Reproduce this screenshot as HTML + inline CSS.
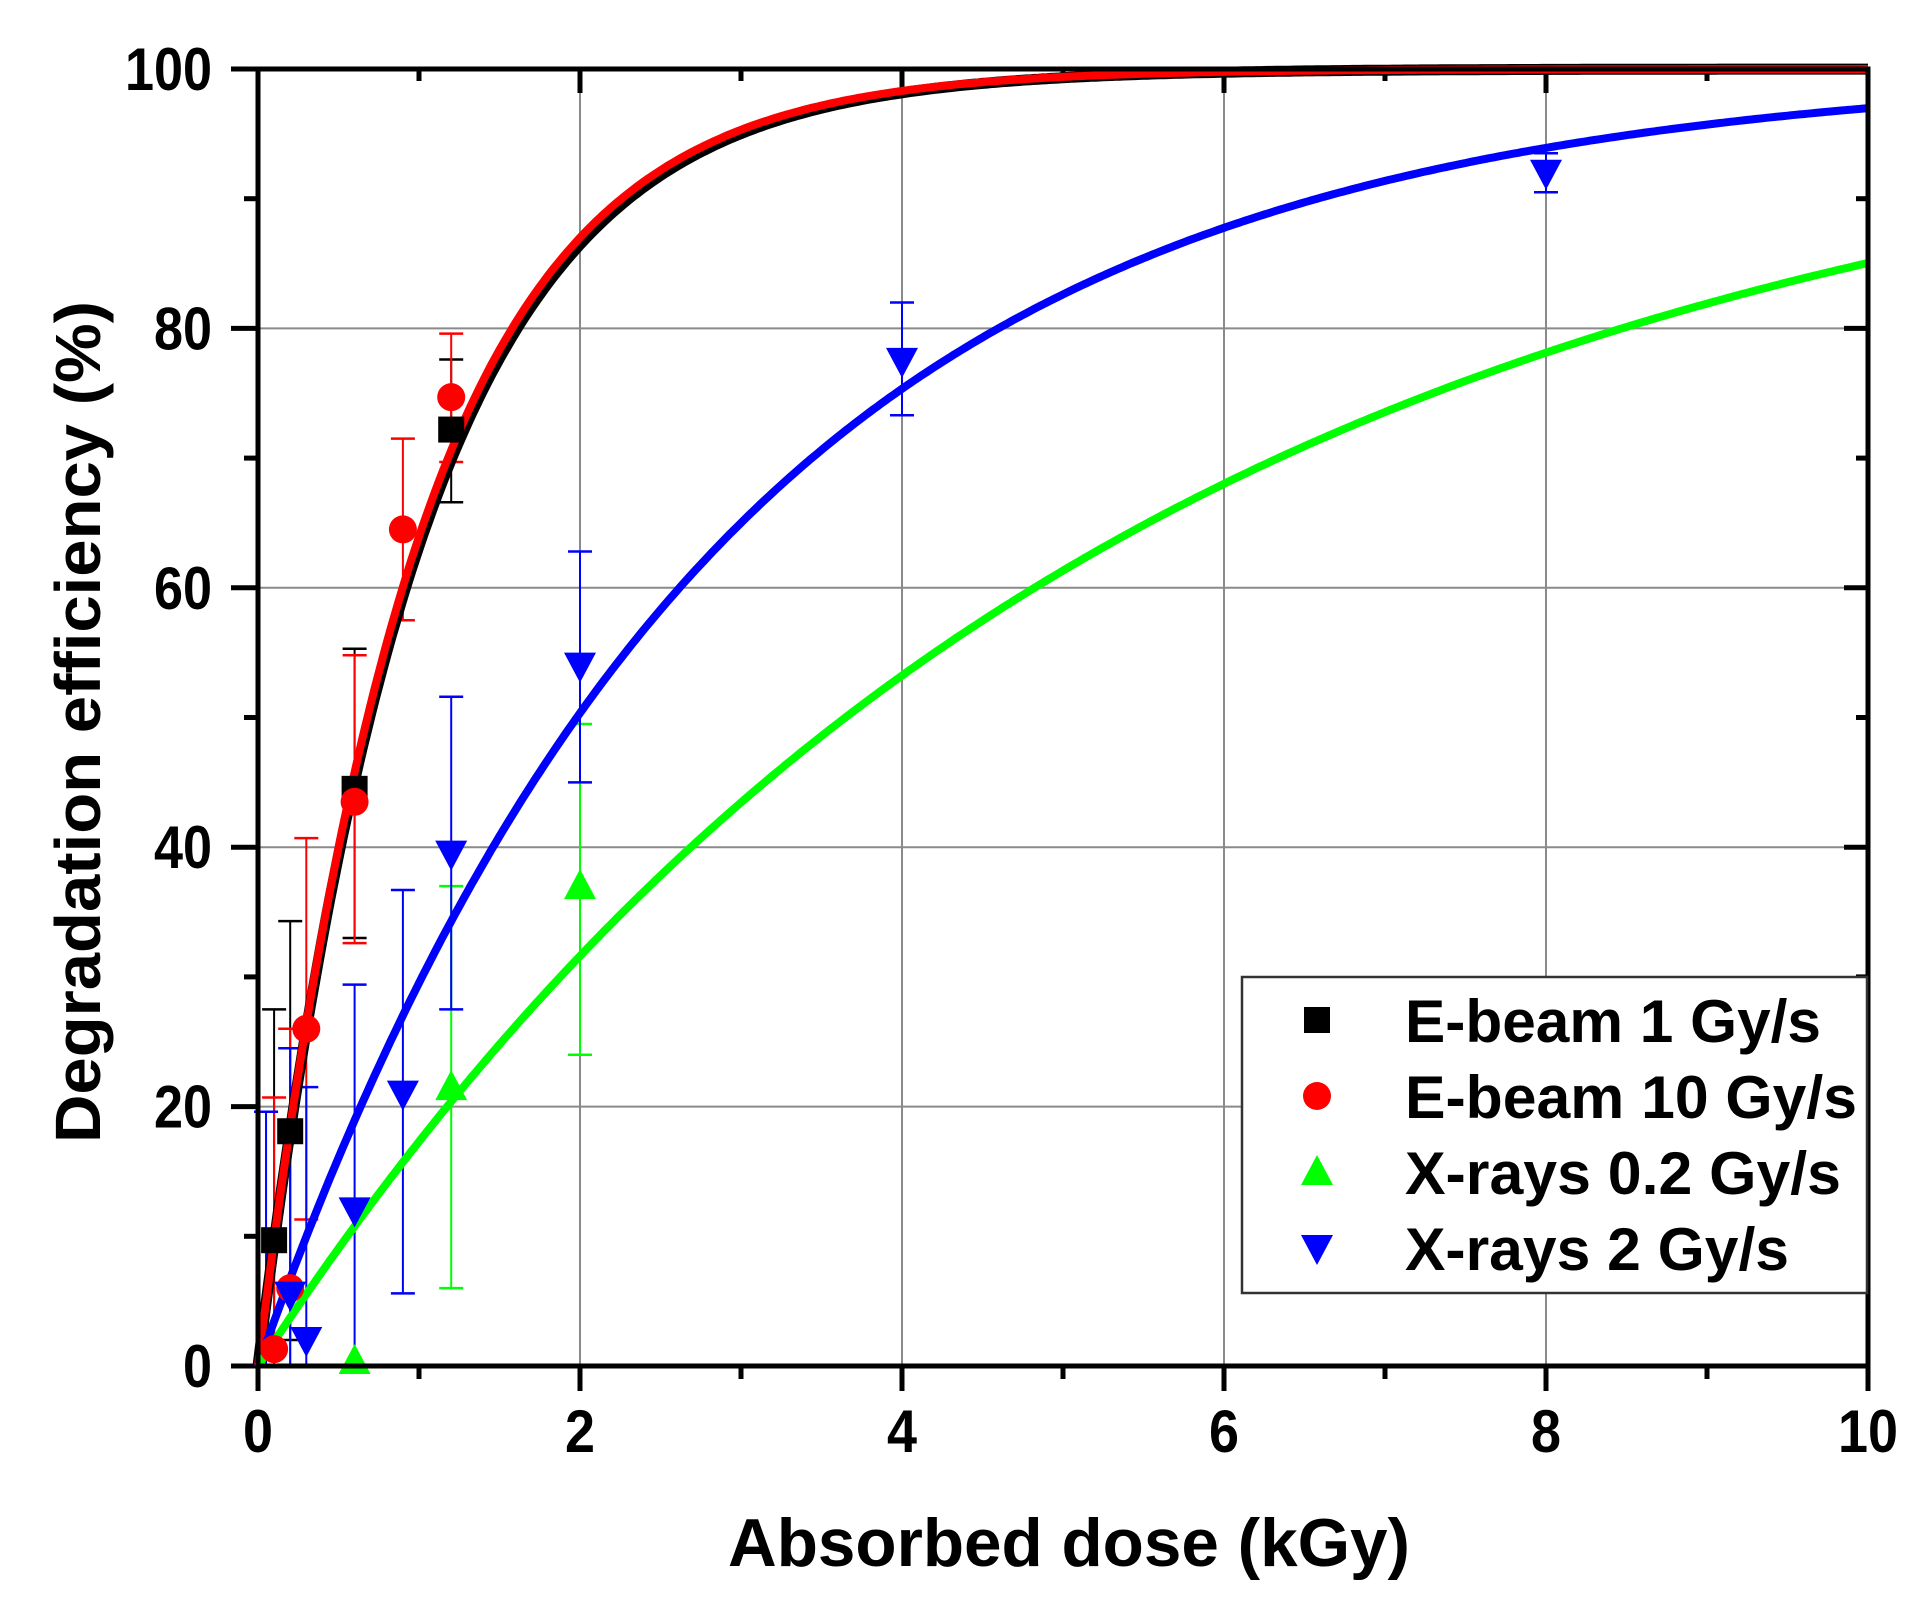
<!DOCTYPE html>
<html><head><meta charset="utf-8"><style>
html,body{margin:0;padding:0;background:#fff;}
svg{display:block;}
text{font-family:"Liberation Sans",Arial,sans-serif;font-weight:bold;fill:#000;}
</style></head><body>
<svg id="s" width="1917" height="1608" viewBox="0 0 1917 1608" xmlns="http://www.w3.org/2000/svg">
<text x="78" y="722" transform="rotate(-90 78 722)" text-anchor="middle" font-size="64" textLength="842" lengthAdjust="spacingAndGlyphs" dominant-baseline="central">Degradation efficiency (%)</text>
<text x="1069" y="1566" text-anchor="middle" font-size="68" textLength="682" lengthAdjust="spacingAndGlyphs">Absorbed dose (kGy)</text>
</svg>
<script>
var s=document.getElementById('s'),NS='http://www.w3.org/2000/svg';
var X0=258,X1=1868,Y0=1366,Y1=69;
function X(v){return X0+v*(X1-X0)/10;}function Y(v){return Y0-v*(Y0-Y1)/100;}
function el(t,a,txt){var e=document.createElementNS(NS,t);for(var k in a)e.setAttribute(k,a[k]);if(txt!=null)e.textContent=txt;s.appendChild(e);return e;}
for(var i=2;i<10;i+=2)el('line',{x1:X(i),x2:X(i),y1:Y0,y2:Y1,stroke:'#8a8a8a','stroke-width':2});
for(var j=20;j<100;j+=20)el('line',{x1:X0,x2:X1,y1:Y(j),y2:Y(j),stroke:'#8a8a8a','stroke-width':2});
for(var i=0;i<=10;i++){var M=i%2==0;
 el('line',{x1:X(i),x2:X(i),y1:Y0,y2:Y0+(M?25:13),stroke:'#000','stroke-width':5});
 el('line',{x1:X(i),x2:X(i),y1:Y1,y2:Y1+(M?24:12),stroke:'#000','stroke-width':5});
 if(M){var t=String(i);el('text',{x:X(i),y:1452,'text-anchor':'middle','font-size':60,textLength:t.length*30,lengthAdjust:'spacingAndGlyphs'},t);}}
for(var j=0;j<=100;j+=10){var M=j%20==0;
 el('line',{x1:X0,x2:X0-(M?27:14),y1:Y(j),y2:Y(j),stroke:'#000','stroke-width':5});
 el('line',{x1:X1,x2:X1-(M?24:12),y1:Y(j),y2:Y(j),stroke:'#000','stroke-width':5});
 if(M){var t=String(j);el('text',{x:212,y:Y(j)+21,'text-anchor':'end','font-size':60,textLength:t.length*29,lengthAdjust:'spacingAndGlyphs'},t);}}
function eb(x,hi,lo,c){el('line',{x1:X(x),x2:X(x),y1:Y(hi),y2:Y(lo),stroke:c,'stroke-width':2});
 [hi,lo].forEach(function(v){if(v>0.5)el('line',{x1:X(x)-12,x2:X(x)+12,y1:Y(v),y2:Y(v),stroke:c,'stroke-width':2.5});});}
var blk=[[0.1,9.7,27.5,0],[0.2,18.1,34.3,2],[0.6,44.5,55.3,33],[1.2,72.2,77.6,66.6]];
var red=[[0.1,1.3,20.7,0],[0.2,6,26,0],[0.3,26,40.7,11.3],[0.6,43.5,54.8,32.6],[0.9,64.5,71.5,57.5],[1.2,74.7,79.6,69.7]];
var grn=[[0.6,0,0,0],[1.2,21.5,37,6],[2,37,49.5,24]];
var blu=[[0.05,10,19.6,0],[0.2,5.5,24.5,0],[0.3,2,21.5,0],[0.6,12,29.4,0],[0.9,21,36.7,5.6],[1.2,39.5,51.6,27.5],[2,54,62.8,45],[4,77.5,82,73.3],[8,92,93.5,90.5]];
blk.forEach(function(d){eb(d[0],d[2],d[3],'#000');});
red.forEach(function(d){eb(d[0],d[2],d[3],'#f00');});
grn.forEach(function(d){eb(d[0],d[2],d[3],'#0f0');});
blu.forEach(function(d){eb(d[0],d[2],d[3],'#00f');});
function curve(k,c,w){var p='';for(var i=0;i<=400;i++){var x=i*10/400;p+=(i?'L':'M')+X(x).toFixed(1)+' '+Y(100*(1-Math.exp(-k*x))).toFixed(1);}
 el('path',{d:p,fill:'none',stroke:c,'stroke-width':w,'stroke-linejoin':'round'});}
curve(1.0,'#000',11);curve(1.02,'#f00',8);curve(0.35,'#00f',8);curve(0.19,'#0f0',8);
function sq(x,y){el('rect',{x:x-13,y:y-13,width:26,height:26,fill:'#000'});}
function ci(x,y){el('circle',{cx:x,cy:y,r:14,fill:'#f00'});}
function tu(x,y){el('polygon',{points:(x-16)+','+(y+13)+' '+(x+16)+','+(y+13)+' '+x+','+(y-17),fill:'#0f0'});}
function td(x,y){el('polygon',{points:(x-16)+','+(y-13)+' '+(x+16)+','+(y-13)+' '+x+','+(y+17),fill:'#00f'});}
blk.forEach(function(d){sq(X(d[0]),Y(d[1]));});
red.forEach(function(d){ci(X(d[0]),Y(d[1]));});
grn.forEach(function(d){if(d[1]>0)tu(X(d[0]),Y(d[1]));else tu(X(d[0]),Y(0)-5);});
blu.slice(1).forEach(function(d){td(X(d[0]),Y(d[1]));});
el('rect',{x:X0,y:Y1,width:X1-X0,height:Y0-Y1,fill:'none',stroke:'#000','stroke-width':5});
el('rect',{x:1242,y:977,width:625,height:316,fill:'#fff',stroke:'#333','stroke-width':2.5});
var L=[['E-beam 1 Gy/s',sq,416],['E-beam 10 Gy/s',ci,452],['X-rays 0.2 Gy/s',tu,436],['X-rays 2 Gy/s',td,384]];
L.forEach(function(l,i){var by=1042+i*76;l[1](1317,by-22);el('text',{x:1405,y:by,'font-size':60,textLength:l[2],lengthAdjust:'spacingAndGlyphs'},l[0]);});
</script>
</body></html>
